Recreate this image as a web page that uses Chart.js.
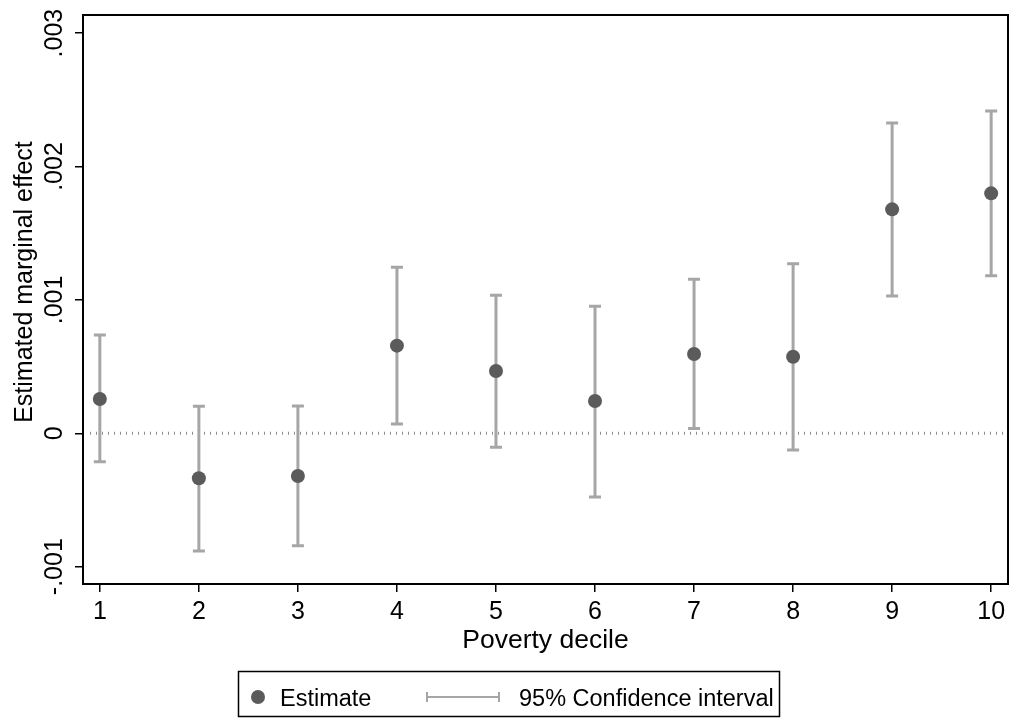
<!DOCTYPE html>
<html>
<head>
<meta charset="utf-8">
<script src="https://cdn.jsdelivr.net/npm/chart.js@4/dist/chart.umd.min.js"></script>
<style>
  html, body { margin: 0; padding: 0; background: #fff; overflow: hidden; }
  #wrap { width: 1012px; height: 719px; }
  canvas { display: block; }
</style>
</head>
<body>
<div id="wrap"><canvas id="me" width="1012" height="719"></canvas></div>
<script>
// data
const deciles = [1, 2, 3, 4, 5, 6, 7, 8, 9, 10];
const estimate = [0.000257, -0.000337, -0.00032, 0.000657, 0.000467, 0.000242, 0.000594, 0.000574, 0.001679, 0.001799];
const ciLow = [-0.000213, -0.000882, -0.000843, 0.00007, -0.000105, -0.000477, 0.000035, -0.000125, 0.001029, 0.001181];
const ciHigh = [0.000737, 0.000202, 0.000205, 0.001244, 0.001034, 0.000952, 0.001154, 0.001271, 0.002326, 0.002416];
const yTicks = [-0.001, 0, 0.001, 0.002, 0.003];
const yTickLabels = ["-.001", "0", ".001", ".002", ".003"];
const legendLabels = ["Estimate", "95% Confidence interval"];

const FONT = "'Liberation Sans', Arial, sans-serif";
const POINT_COLOR = "#5b5b5b";
const CI_COLOR = "#a6a6a6";

// error bars, zero line, frame, texts and legend
const stataPlugin = {
    id: "stata",
    beforeDatasetsDraw(chart) {
        const ctx = chart.ctx;
        const xs = chart.scales.x;
        const ys = chart.scales.y;
        const area = chart.chartArea;

        // dotted line at zero
        ctx.save();
        ctx.strokeStyle = "#8c8c8c";
        ctx.lineWidth = 3;
        ctx.setLineDash([1, 5]);
        const y0 = ys.getPixelForValue(0);
        ctx.beginPath();
        ctx.moveTo(area.left + 7, y0);
        ctx.lineTo(area.right, y0);
        ctx.stroke();
        ctx.restore();

        // confidence intervals
        ctx.save();
        ctx.strokeStyle = CI_COLOR;
        ctx.lineWidth = 3;
        deciles.forEach((d, i) => {
            const x = xs.getPixelForValue(d);
            const yl = ys.getPixelForValue(ciLow[i]);
            const yh = ys.getPixelForValue(ciHigh[i]);
            ctx.beginPath();
            ctx.moveTo(x, yl);
            ctx.lineTo(x, yh);
            ctx.moveTo(x - 6, yl);
            ctx.lineTo(x + 6, yl);
            ctx.moveTo(x - 6, yh);
            ctx.lineTo(x + 6, yh);
            ctx.stroke();
        });
        ctx.restore();
    },
    afterDraw(chart) {
        const ctx = chart.ctx;
        const xs = chart.scales.x;
        const ys = chart.scales.y;
        const area = chart.chartArea;

        // plot frame
        ctx.save();
        ctx.strokeStyle = "#000";
        ctx.lineWidth = 2;
        ctx.strokeRect(area.left, area.top, area.right - area.left, area.bottom - area.top);

        ctx.fillStyle = "#000";
        ctx.font = "25px " + FONT;

        // y tick labels, rotated
        ctx.textAlign = "center";
        ctx.textBaseline = "alphabetic";
        yTicks.forEach((v, i) => {
            ctx.save();
            ctx.translate(62, ys.getPixelForValue(v));
            ctx.rotate(-Math.PI / 2);
            ctx.fillText(yTickLabels[i], 0, 0);
            ctx.restore();
        });

        // y title
        ctx.save();
        ctx.translate(32, 282);
        ctx.rotate(-Math.PI / 2);
        ctx.fillText("Estimated marginal effect", 0, 0);
        ctx.restore();

        // x tick labels
        deciles.forEach(d => {
            ctx.fillText(String(d), xs.getPixelForValue(d), 619);
        });

        // x title
        ctx.font = "26.5px " + FONT;
        ctx.fillText("Poverty decile", (area.left + area.right) / 2, 648);

        // legend
        ctx.font = "23.5px " + FONT;
        ctx.lineWidth = 1.5;
        ctx.strokeRect(238.5, 671.5, 541, 45);
        ctx.fillStyle = POINT_COLOR;
        ctx.beginPath();
        ctx.arc(258, 697, 7, 0, Math.PI * 2);
        ctx.fill();
        ctx.fillStyle = "#000";
        ctx.textAlign = "left";
        ctx.fillText(legendLabels[0], 280, 706);
        ctx.strokeStyle = CI_COLOR;
        ctx.lineWidth = 2;
        ctx.beginPath();
        ctx.moveTo(426, 697);
        ctx.lineTo(500, 697);
        ctx.moveTo(427, 692);
        ctx.lineTo(427, 702);
        ctx.moveTo(499, 692);
        ctx.lineTo(499, 702);
        ctx.stroke();
        ctx.fillText(legendLabels[1], 519, 706);
        ctx.restore();
    }
};

const ctxMe = document.getElementById("me").getContext("2d");
const meChart = new Chart(ctxMe, {
    type: "scatter",
    data: {
        datasets: [
            {
                label: legendLabels[0],
                data: deciles.map((d, i) => ({ x: d, y: estimate[i] })),
                backgroundColor: POINT_COLOR,
                borderWidth: 0,
                pointRadius: 7,
                pointHoverRadius: 7
            }
        ]
    },
    options: {
        responsive: false,
        animation: false,
        devicePixelRatio: 1,
        layout: {
            autoPadding: false, // otherwise the point radius eats into the right margin
            padding: { left: 0, top: 15, right: 4, bottom: 0 }
        },
        plugins: {
            legend: { display: false },
            tooltip: { enabled: false }
        },
        scales: {
            x: {
                type: "linear",
                min: 0.83,
                max: 10.17,
                afterBuildTicks: scale => {
                    scale.ticks = deciles.map(v => ({ value: v }));
                },
                afterFit: scale => {
                    scale.height = 135;
                },
                ticks: { display: false },
                grid: {
                    drawOnChartArea: false,
                    drawTicks: true,
                    tickLength: 8,
                    color: "#000",
                    lineWidth: 1.5
                },
                border: { display: false }
            },
            y: {
                min: -0.00113,
                max: 0.003136,
                afterBuildTicks: scale => {
                    scale.ticks = yTicks.map(v => ({ value: v }));
                },
                afterFit: scale => {
                    scale.width = 83;
                },
                ticks: { display: false },
                grid: {
                    drawOnChartArea: false,
                    drawTicks: true,
                    tickLength: 8,
                    color: "#000",
                    lineWidth: 1.5
                },
                border: { display: false }
            }
        }
    },
    plugins: [stataPlugin]
});
</script>
</body>
</html>
